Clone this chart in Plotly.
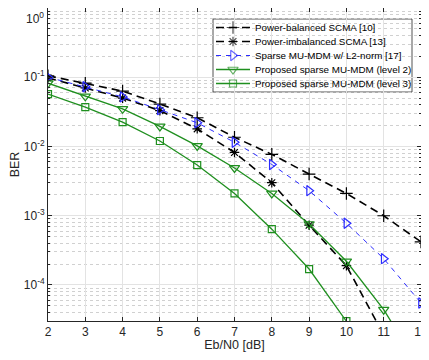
import plotly.graph_objects as go

ebn0 = [2, 3, 4, 5, 6, 7, 8, 9, 10, 11, 12]

ber_pb = [0.105, 0.082, 0.063, 0.041, 0.026, 0.0136, 0.0077, 0.004, 0.0021, 0.001, 0.00042]
ber_pi = [0.098, 0.07, 0.05, 0.033, 0.018, 0.0082, 0.003, 0.00073, 0.00019, 0.000019, 0.0000012]
ber_l2 = [0.1, 0.073, 0.052, 0.034, 0.022, 0.0115, 0.0055, 0.0023, 0.00078, 0.00024, 0.000055]
ber_lv2 = [0.082, 0.053, 0.035, 0.0195, 0.0102, 0.0049, 0.0021, 0.00076, 0.00022, 0.000044, 0.000006]
ber_lv3 = [0.057, 0.037, 0.0225, 0.012, 0.0054, 0.0021, 0.00064, 0.00017, 0.00003, 0.000002, 0.0000001]

names = [
    "Power-balanced SCMA [10]",
    "Power-imbalanced SCMA [13]",
    "Sparse MU-MDM w/ L2-norm [17]",
    "Proposed sparse MU-MDM (level 2)",
    "Proposed sparse MU-MDM (level 3)",
]

ytick_vals = [1e-4, 1e-3, 1e-2, 1e-1, 1]
ytick_text = ["10<sup>-4</sup>", "10<sup>-3</sup>", "10<sup>-2</sup>", "10<sup>-1</sup>", "10<sup>0</sup>"]

black = "#000000"
blue = "#2b2bff"
green = "#1f8f1f"
dash_k = "8px,5px"
dash_b = "5px,5px"

# (values, colour, dash, symbol, line width, marker size)
styles = [
    (ber_pb, black, dash_k, "cross-thin-open", 1.6, 9),
    (ber_pi, black, dash_k, "asterisk-open", 1.6, 8),
    (ber_l2, blue, dash_b, "triangle-right-open", 1.0, 9),
    (ber_lv2, green, "solid", "triangle-down-open", 1.3, 9),
    (ber_lv3, green, "solid", "square-open", 1.3, 7),
]

fig = go.Figure()
for name, (ys, col, dash, sym, lw, ms) in zip(names, styles):
    fig.add_trace(go.Scatter(
        x=ebn0, y=ys, name=name, mode="lines+markers", showlegend=False,
        line=dict(color=col, dash=dash, width=lw),
        marker=dict(symbol=sym, size=ms, color=col, line=dict(color=col, width=1.2)),
    ))

# the page body keeps its 8px margin, so the figure is sized to fit inside it
# hand-made legend, MATLAB style (compact rows); positions in page pixels
px_l, px_t, pw, ph = 48, 8, 373, 313
def fx(px):
    return (px - px_l) / pw
def fy(py):
    return 1 - (py - px_t) / ph

shapes = [dict(type="rect", xref="paper", yref="paper",
               x0=fx(213), x1=fx(412), y0=fy(92), y1=fy(19),
               fillcolor="white", line=dict(color="#262626", width=0.8), layer="between")]
annotations = []
row_y = [27.5, 41.5, 55.5, 69.5, 83.5]
for name, (ys, col, dash, sym, lw, ms), ry in zip(names, styles, row_y):
    shapes.append(dict(type="line", xref="paper", yref="paper",
                       x0=fx(216), x1=fx(250), y0=fy(ry), y1=fy(ry),
                       line=dict(color=col, dash=dash, width=lw), layer="above"))
    annotations.append(dict(text=name, xref="paper", yref="paper", x=fx(253), y=fy(ry),
                            xanchor="left", yanchor="middle", showarrow=False,
                            font=dict(size=9.8, color="#000000")))

# top tick label would be clipped at the figure edge, so it is pushed just inside
annotations.append(dict(text=ytick_text[-1], xref="paper", yref="paper", x=0, y=1,
                        xanchor="right", yanchor="top", xshift=-2, showarrow=False,
                        font=dict(size=12, color="#262626")))

fig.add_trace(go.Scatter(
    x=[fx(233)] * 5, y=[fy(r) for r in row_y], xaxis="x2", yaxis="y2",
    mode="markers", showlegend=False, hoverinfo="skip", cliponaxis=False,
    marker=dict(symbol=[s[3] for s in styles], size=[s[5] for s in styles],
                color=[s[1] for s in styles],
                line=dict(color=[s[1] for s in styles], width=1.2)),
))

fig.update_layout(
    width=421, height=344,
    margin=dict(l=40, r=8, t=0, b=31, pad=0),
    paper_bgcolor="white", plot_bgcolor="white",
    font=dict(family="Liberation Sans, Arial, sans-serif", size=12, color="#262626"),
    showlegend=False,
    shapes=shapes, annotations=annotations,
    xaxis=dict(
        range=[2, 12], dtick=1, tick0=2, automargin=False, ticklabeloverflow="allow",
        showgrid=True, gridcolor="#e3e3e3", gridwidth=1,
        showline=True, linecolor="#262626", linewidth=1, mirror="allticks",
        ticks="inside", ticklen=4, tickcolor="#262626", tickfont=dict(size=12),
        zeroline=False,
        title=dict(text="Eb/N0 [dB]", font=dict(size=12.5), standoff=4),
    ),
    yaxis=dict(
        type="log", range=[-4.52, 0], automargin=False,
        tickvals=ytick_vals, ticktext=ytick_text[:-1] + [""], tickfont=dict(size=12),
        showgrid=True, gridcolor="#e3e3e3", gridwidth=1,
        minor=dict(showgrid=True, gridcolor="#d0d0d0", griddash="dot", ticks="inside",
                   ticklen=2, tickcolor="#262626", dtick="D1"),
        showline=True, linecolor="#262626", linewidth=1, mirror="allticks",
        ticks="inside", ticklen=4, tickcolor="#262626",
        zeroline=False,
        title=dict(text="BER", font=dict(size=12.5), standoff=2),
    ),
    xaxis2=dict(overlaying="x", anchor="y2", range=[0, 1], visible=False, fixedrange=True),
    yaxis2=dict(overlaying="y", anchor="x2", range=[0, 1], visible=False, fixedrange=True),
)

fig.write_html("out.html")
